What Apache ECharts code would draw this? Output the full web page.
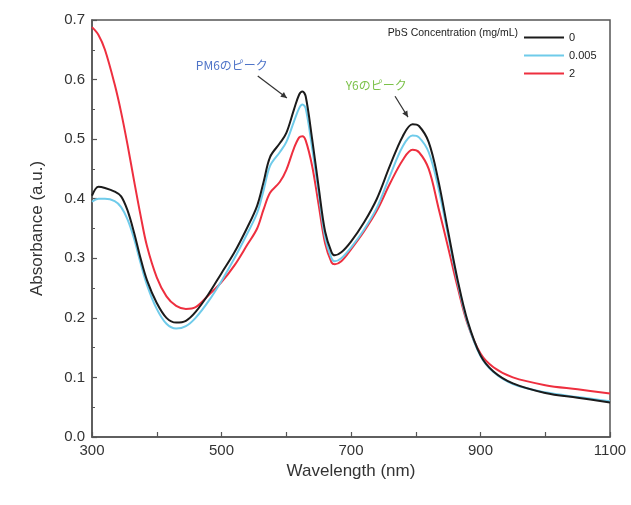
<!DOCTYPE html>
<html>
<head>
<meta charset="utf-8">
<script src="https://cdn.jsdelivr.net/npm/echarts@6/dist/echarts.min.js"></script>
<style>html,body{margin:0;padding:0;background:#fff;}#c{width:631px;height:505px;}</style>
</head>
<body>
<div id="c"></div>
<script>
const wavelengths = [300,310,320,335,345,355,365,375,385,400,415,430,445,460,480,500,520,540,555,565,575,590,600,612,620,625,630,640,650,660,670,675,685,700,720,740,760,780,795,805,820,835,850,865,880,900,920,950,1000,1050,1100];
const abs0 = [0.405,0.420,0.418,0.412,0.404,0.380,0.343,0.300,0.263,0.225,0.200,0.192,0.195,0.210,0.240,0.275,0.310,0.352,0.388,0.428,0.470,0.493,0.510,0.550,0.575,0.580,0.572,0.500,0.420,0.345,0.310,0.305,0.310,0.328,0.360,0.400,0.455,0.505,0.525,0.522,0.495,0.430,0.345,0.262,0.195,0.137,0.110,0.090,0.074,0.066,0.058];
const abs0005 = [0.395,0.400,0.400,0.396,0.386,0.365,0.333,0.292,0.255,0.215,0.190,0.182,0.186,0.200,0.228,0.262,0.300,0.342,0.376,0.414,0.455,0.478,0.495,0.530,0.552,0.558,0.552,0.485,0.410,0.335,0.300,0.295,0.300,0.318,0.348,0.385,0.438,0.488,0.506,0.503,0.478,0.418,0.338,0.258,0.192,0.136,0.109,0.089,0.075,0.067,0.060];
const abs2 = [0.688,0.675,0.650,0.592,0.545,0.490,0.430,0.372,0.320,0.268,0.236,0.220,0.215,0.218,0.238,0.260,0.288,0.323,0.350,0.382,0.410,0.428,0.448,0.485,0.503,0.505,0.498,0.455,0.390,0.325,0.293,0.290,0.295,0.315,0.345,0.380,0.425,0.465,0.482,0.478,0.450,0.385,0.318,0.250,0.190,0.140,0.117,0.100,0.087,0.080,0.073];
const seriesNames = ['0','0.005','2'];
const xTicks = [300,500,700,900,1100];
const legendTitle = 'PbS Concentration (mg/mL)';
const xTitle = 'Wavelength (nm)';
const yTitle = 'Absorbance (a.u.)';
const annotations = [
  {text:'PM6のピーク', color:'#4f74c8', at:[516,0.624], from:[556,0.606], to:[601,0.569]},
  {text:'Y6のピーク', color:'#7cc24a', at:[739,0.590], from:[768,0.572], to:[788,0.537]}
];

const colors = ['#1b1b1b','#6fcbea','#ee2f3f'];
const pairs = (ys) => wavelengths.map((w,i)=>[w,ys[i]]);
const FONT = '"Liberation Sans", Arial, sans-serif';

const chart = echarts.init(document.getElementById('c'), null, {renderer:'canvas'});
const option = {
  animation:false,
  backgroundColor:'#fff',
  grid:{left:92,right:21,top:20,bottom:68,show:true,borderColor:'#555',borderWidth:1.5,backgroundColor:'transparent'},
  xAxis:{type:'value',min:300,max:1100,interval:100,
    name:xTitle,nameLocation:'middle',nameGap:25,
    nameTextStyle:{fontFamily:FONT,fontSize:17,color:'#333'},
    axisLine:{show:true,lineStyle:{color:'#555',width:1.5}},
    axisTick:{show:true,inside:true,length:5,lineStyle:{color:'#555',width:1.2}},
    axisLabel:{fontFamily:FONT,fontSize:15,color:'#333',margin:6,
      formatter:(v)=>xTicks.includes(v)?String(v):''},
    splitLine:{show:false}},
  yAxis:{type:'value',min:0,max:0.7,interval:0.1,
    name:yTitle,nameLocation:'middle',nameGap:46,
    nameTextStyle:{fontFamily:FONT,fontSize:17,color:'#333'},
    axisLine:{show:true,lineStyle:{color:'#555',width:1.5}},
    axisTick:{show:true,inside:true,length:5,lineStyle:{color:'#555',width:1.2}},
    minorTick:{show:true,splitNumber:2,length:3,lineStyle:{color:'#555',width:1}},
    axisLabel:{fontFamily:FONT,fontSize:15,color:'#333',margin:7,formatter:(v)=>v.toFixed(1)},
    splitLine:{show:false}},
  legend:{orient:'vertical',left:519,top:27,itemWidth:40,itemHeight:2,itemGap:7,icon:'rect',
    data:seriesNames,textStyle:{fontFamily:FONT,fontSize:11,color:'#222'}},
  series:[abs0,abs0005,abs2].map((ys,i)=>({
    name:seriesNames[i],type:'line',data:pairs(ys),smooth:0.35,symbol:'none',
    lineStyle:{color:colors[i],width:2},itemStyle:{color:colors[i]},z:3-i
  }))
};
chart.setOption(option);

const g = [];
g.push({type:'text',style:{text:legendTitle,x:518,y:33,align:'right',verticalAlign:'middle',font:'10.5px '+FONT,fill:'#222'}});
annotations.forEach(a=>{
  const p = chart.convertToPixel({gridIndex:0},a.at);
  const s = chart.convertToPixel({gridIndex:0},a.from);
  const e = chart.convertToPixel({gridIndex:0},a.to);
  g.push({type:'text',style:{text:a.text,x:p[0],y:p[1],align:'center',verticalAlign:'middle',font:'12px "Noto Sans CJK JP", '+FONT,fill:a.color}});
  g.push({type:'line',shape:{x1:s[0],y1:s[1],x2:e[0],y2:e[1]},style:{stroke:'#333',lineWidth:1.2}});
  const ang = Math.atan2(e[1]-s[1],e[0]-s[0]);
  const L=6,W=3;
  const bx=e[0]-L*Math.cos(ang), by=e[1]-L*Math.sin(ang);
  g.push({type:'polygon',shape:{points:[[e[0],e[1]],[bx+W*Math.sin(ang),by-W*Math.cos(ang)],[bx-W*Math.sin(ang),by+W*Math.cos(ang)]]},style:{fill:'#333'}});
});
chart.setOption({graphic:g});
</script>
</body>
</html>
